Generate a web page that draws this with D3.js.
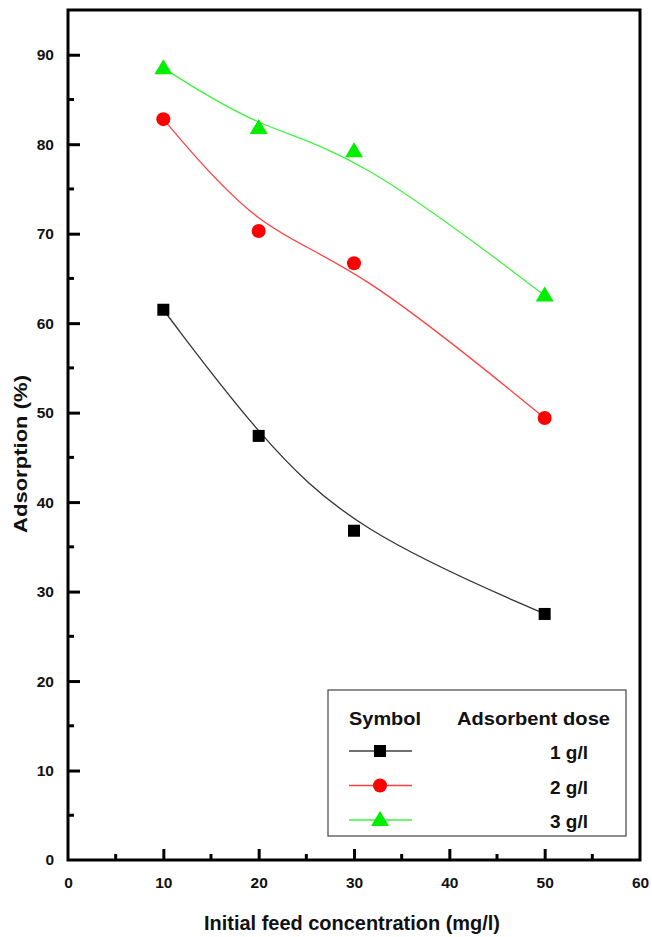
<!DOCTYPE html>
<html>
<head>
<meta charset="utf-8">
<script src="https://cdn.jsdelivr.net/npm/d3@7"></script>
<style>
  html, body { margin: 0; padding: 0; background: #fff; }
  svg { display: block; font-family: "Liberation Sans", Arial, sans-serif; }
</style>
</head>
<body>
<svg id="chart" width="652" height="937"></svg>
<script>
// Initial feed concentration (mg/l)
const concentrations = [10, 20, 30, 50];
// Adsorption (%) for each adsorbent dose
const dose1 = [61.5, 47.4, 36.8, 27.5];
const dose2 = [82.8, 70.3, 66.7, 49.4];
const dose3 = [88.5, 81.8, 79.2, 63.1];
const seriesNames = ["1 g/l", "2 g/l", "3 g/l"];
const seriesColors = ["#000000", "#ff0000", "#00ee00"];
const seriesSymbols = ["square", "circle", "triangle"];
const xTicks = [0, 10, 20, 30, 40, 50, 60];
const yTicks = [0, 10, 20, 30, 40, 50, 60, 70, 80, 90];

(function () {
const svg = d3.select("#chart");
const plotLeft = 68, plotRight = 640, plotTop = 10, plotBottom = 860;

const x = d3.scaleLinear().domain([0, 60]).range([plotLeft, plotRight]);
const y = d3.scaleLinear().domain([0, 95]).range([plotBottom, plotTop]);

const series = [dose1, dose2, dose3].map((vals, i) => ({
  name: seriesNames[i], color: seriesColors[i], symbol: seriesSymbols[i],
  points: vals.map((v, j) => ({ x: concentrations[j], y: v }))
}));

// Wide bold label helper
function label(g, text, size, width) {
  return g.append("text")
    .attr("font-size", size).attr("font-weight", "bold").attr("fill", "#111")
    .attr("textLength", width).attr("lengthAdjust", "spacingAndGlyphs")
    .text(text);
}

// Frame
svg.append("rect")
  .attr("x", plotLeft).attr("y", plotTop)
  .attr("width", plotRight - plotLeft).attr("height", plotBottom - plotTop)
  .attr("fill", "none").attr("stroke", "#000").attr("stroke-width", 3);

// Minor ticks (inward) at half steps
const minorX = d3.range(5, 60, 10);
const minorY = d3.range(5, 95, 10);

// X axis with inward ticks
const xAxis = d3.axisBottom(x).tickValues(xTicks).tickSizeInner(-11).tickSizeOuter(0).tickPadding(14);
const gx = svg.append("g").attr("transform", `translate(0,${plotBottom})`).call(xAxis);
gx.select(".domain").remove();
gx.selectAll(".tick line").attr("stroke-width", 3);
gx.selectAll(".tick text").attr("font-size", 15.5).attr("font-weight", "bold").attr("fill", "#111").attr("dy", "0.9em");
gx.selectAll(".tick").filter(d => d === 0 || d === 60).select("line").remove();
gx.selectAll(".minor").data(minorX).enter().append("line")
  .attr("x1", d => x(d)).attr("x2", d => x(d)).attr("y1", 0).attr("y2", -6)
  .attr("stroke", "#000").attr("stroke-width", 3);

// Y axis with inward ticks
const yAxis = d3.axisLeft(y).tickValues(yTicks).tickSizeInner(-12).tickSizeOuter(0).tickPadding(14);
const gy = svg.append("g").attr("transform", `translate(${plotLeft},0)`).call(yAxis);
gy.select(".domain").remove();
gy.selectAll(".tick line").attr("stroke-width", 3);
gy.selectAll(".tick text").attr("font-size", 15.5).attr("font-weight", "bold").attr("fill", "#111");
gy.selectAll(".tick").filter(d => d === 0).select("line").remove();
gy.selectAll(".minor").data(minorY).enter().append("line")
  .attr("x1", 0).attr("x2", 6).attr("y1", d => y(d)).attr("y2", d => y(d))
  .attr("stroke", "#000").attr("stroke-width", 3);

// Axis titles
label(svg, "Initial feed concentration (mg/l)", 19.5, 296)
  .attr("x", 204).attr("y", 930);
label(svg, "Adsorption (%)", 19, 158)
  .attr("transform", "translate(27,533) rotate(-90)");

// Smoothed curves
const line = d3.line().x(d => x(d.x)).y(d => y(d.y)).curve(d3.curveBasis);
svg.selectAll(".curve").data(series).enter().append("path")
  .attr("d", d => line(d.points))
  .attr("fill", "none").attr("stroke", d => d.color)
  .attr("stroke-width", 1.3).attr("stroke-opacity", d => d.color === "#000000" ? 0.8 : 0.75);

// Marker drawing
function drawMarker(g, symbol, color, cx, cy) {
  if (symbol === "square") {
    g.append("rect").attr("x", cx - 6).attr("y", cy - 6).attr("width", 12).attr("height", 12).attr("fill", color);
  } else if (symbol === "circle") {
    g.append("circle").attr("cx", cx).attr("cy", cy).attr("r", 7).attr("fill", color);
  } else {
    g.append("path")
      .attr("d", `M${cx},${cy - 9} L${cx + 9},${cy + 6} L${cx - 9},${cy + 6} Z`)
      .attr("fill", color);
  }
}

const markers = svg.append("g");
series.forEach(s => {
  s.points.forEach(p => drawMarker(markers, s.symbol, s.color, x(p.x), y(p.y)));
});

// Legend
const lg = svg.append("g");
lg.append("rect").attr("x", 328).attr("y", 690).attr("width", 298).attr("height", 146)
  .attr("fill", "#fff").attr("stroke", "#444").attr("stroke-width", 1.2);
label(lg, "Symbol", 18, 72).attr("x", 349).attr("y", 725);
label(lg, "Adsorbent dose", 18, 153).attr("x", 457).attr("y", 725);
series.forEach((s, i) => {
  const cy = 751 + i * 34.5;
  lg.append("line").attr("x1", 349).attr("x2", 412).attr("y1", cy).attr("y2", cy)
    .attr("stroke", s.color).attr("stroke-width", 1.3).attr("stroke-opacity", 0.75);
  drawMarker(lg, s.symbol, s.color, 380, cy);
  label(lg, s.name, 18, 38).attr("x", 550).attr("y", cy + 8);
});
})();
</script>
</body>
</html>
